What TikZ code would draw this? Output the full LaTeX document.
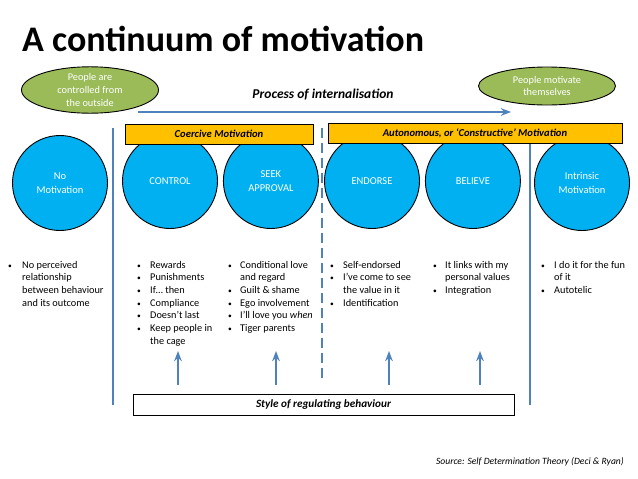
\documentclass[tikz,border=0pt]{standalone}
\usepackage{fontspec}
\setmainfont{Carlito}
\usetikzlibrary{arrows.meta, positioning, shapes.geometric}
\definecolor{stageblue}{HTML}{00B0F0}
\definecolor{flowblue}{HTML}{4F81BD}
\definecolor{bandorange}{HTML}{FFC000}
\definecolor{poleolive}{HTML}{9BBB59}
\newcommand{\bul}{{\fontsize{7.5}{7.5}\selectfont\textbullet}}

\begin{document}
\begin{tikzpicture}[x=1pt, y=-1pt,
  stage/.style={circle, draw=black, line width=0.9pt, fill=stageblue,
                minimum size=95pt, inner sep=0pt, text=white, align=center,
                font=\fontsize{10.5}{14}\selectfont},
  pole/.style={ellipse, draw=black, line width=0.9pt, fill=poleolive,
               minimum width=137pt, inner sep=0pt, text=white, align=center,
               font=\fontsize{10.3}{12.8}\selectfont},
  band/.style={rectangle, draw=black, line width=0.6pt, fill=bandorange,
               minimum height=20pt, inner sep=0pt,
               font=\fontsize{10.6}{12}\selectfont\bfseries\itshape},
  bullets/.style={anchor=north west, inner sep=0pt, align=left,
                  font=\fontsize{10.3}{12.7}\selectfont},
  divider/.style={line width=1.8pt, color=flowblue},
  arr/.style={-Stealth, line width=1.6pt, color=flowblue},
]
\useasboundingbox (0,0) rectangle (638,479);

% title
\node[anchor=base west, inner sep=0pt, font=\fontsize{36}{36}\selectfont\bfseries] (title) at (22,52) {A continuum of motivation};

% dividers
\coordinate (d1t) at (113,128); \coordinate (d1b) at (113,405);
\coordinate (d2t) at (322,128); \coordinate (d2b) at (322,380);
\coordinate (d3t) at (530,128); \coordinate (d3b) at (530,405);
\draw[divider] (d1t) -- (d1b);
\draw[divider, dash pattern=on 10pt off 5pt] (d2t) -- (d2b);
\draw[divider] (d3t) -- (d3b);

% internalisation
\coordinate (pstart) at (138,112);
\coordinate (pend) at (511,112);
\draw[arr] (pstart) -- (pend);
\node[font=\fontsize{13.5}{15}\selectfont\bfseries\itshape] (proc) at (323,95) {Process of internalisation};

\node[pole, minimum height=45pt] (outside) at (90,90) {People are\\controlled from\\the outside};
\node[pole, minimum height=38pt] (selves) at (547,86) {People motivate\\themselves};

% stages
\node[stage] (none) at (60,183) {No\\Motivation};
\node[stage] (ctrl) at (170,181) {CONTROL};
\node[stage, right=5pt of ctrl] (seek) {SEEK\\APPROVAL};
\node[stage] (endorse) at (372,181) {ENDORSE};
\node[stage, right=5pt of endorse] (believe) {BELIEVE};
\node[stage] (intrinsic) at (582,183) {Intrinsic\\Motivation};

% bands
\node[band, minimum width=188pt] (coerce) at (219,134) {Coercive Motivation};
\node[band, minimum width=294pt] (auto) at (475,133) {Autonomous, or ‘Constructive’ Motivation};

% lists
\node[bullets] (l1) at (8,259) {\begin{tabular}{@{}p{14pt}@{}l@{}}
\bul & No perceived\\ & relationship\\ & between behaviour\\ & and its outcome\end{tabular}};
\node[bullets] (l2) at (137,259) {\begin{tabular}{@{}p{13pt}@{}l@{}}
\bul & Rewards\\ \bul & Punishments\\ \bul & If… then\\ \bul & Compliance\\
\bul & Doesn’t last\\ \bul & Keep people in\\ & the cage\end{tabular}};
\node[bullets] (l3) at (228,259) {\begin{tabular}{@{}p{12pt}@{}l@{}}
\bul & Conditional love\\ & and regard\\ \bul & Guilt \& shame\\ \bul & Ego involvement\\
\bul & I’ll love you \textit{when}\\ \bul & Tiger parents\end{tabular}};
\node[bullets] (l4) at (330,259) {\begin{tabular}{@{}p{13pt}@{}l@{}}
\bul & Self-endorsed\\ \bul & I’ve come to see\\ & the value in it\\ \bul & Identification\end{tabular}};
\node[bullets] (l5) at (433,259) {\begin{tabular}{@{}p{12pt}@{}l@{}}
\bul & It links with my\\ & personal values\\ \bul & Integration\end{tabular}};
\node[bullets] (l6) at (541,259) {\begin{tabular}{@{}p{13pt}@{}l@{}}
\bul & I do it for the fun\\ & of it\\ \bul & Autotelic\end{tabular}};

% regulating style
\node[draw=black, line width=0.8pt, fill=white, minimum width=381pt, minimum height=21pt,
      inner sep=0pt, font=\fontsize{11.2}{13}\selectfont\bfseries\itshape] (style) at (323.5,404.5) {Style of regulating behaviour};
\foreach \x/\n in {178/a, 276/b, 389/c, 480/d} {
  \coordinate (s\n) at (\x,385);
  \coordinate (e\n) at (\x,351);
  \draw[arr] (s\n) -- (e\n);
}

\node[anchor=base east, inner sep=0pt, font=\fontsize{9.6}{11}\selectfont\itshape] (src) at (624,464) {Source: Self Determination Theory (Deci \& Ryan)};
\end{tikzpicture}
\end{document}
